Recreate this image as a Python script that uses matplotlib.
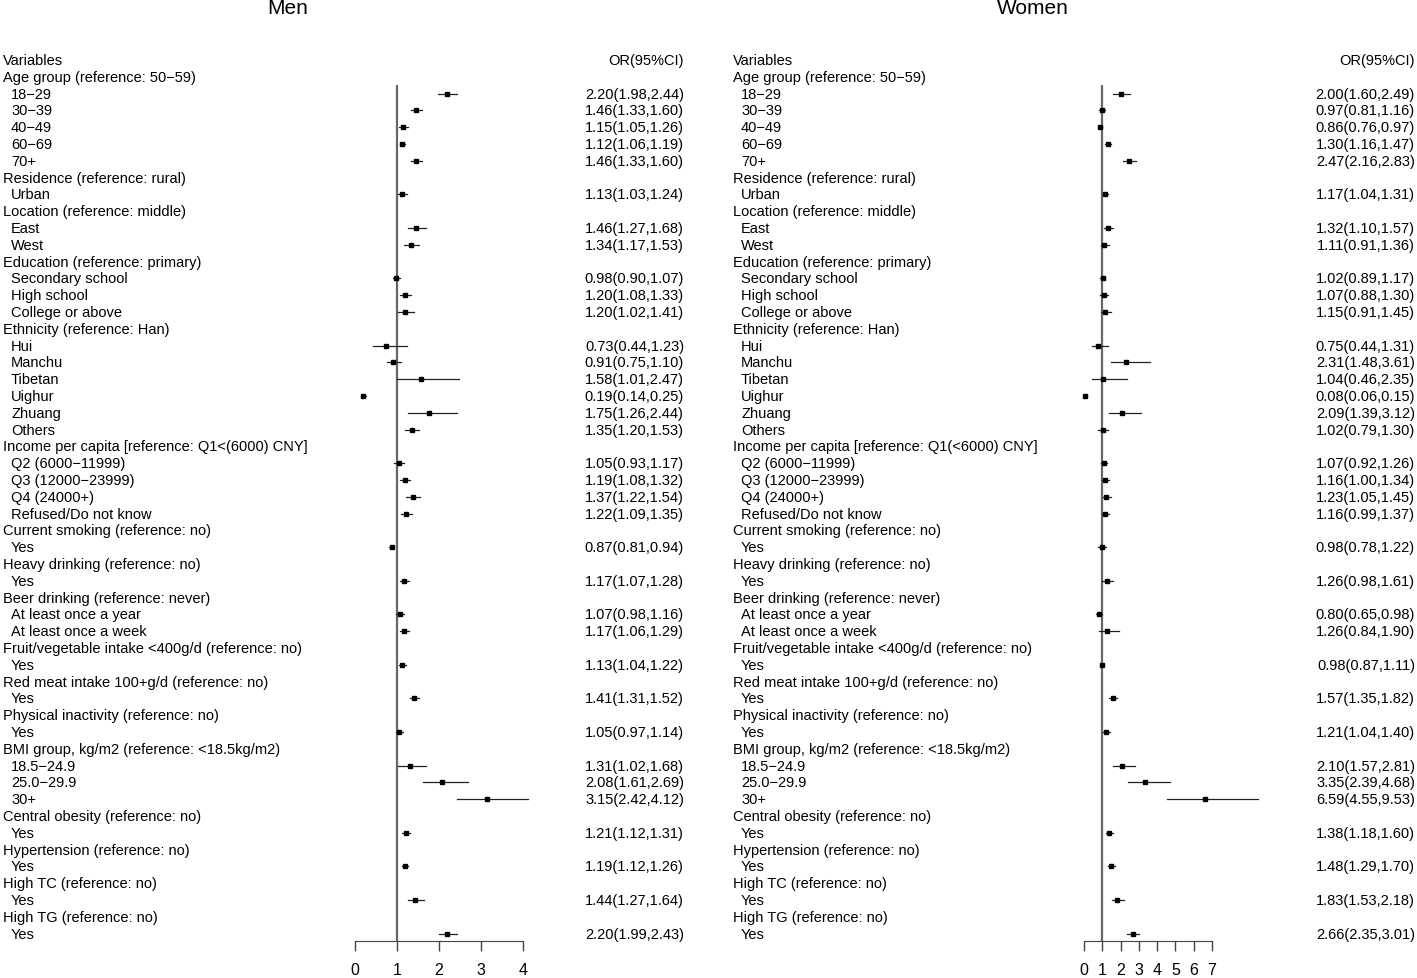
import matplotlib.pyplot as plt
import matplotlib.transforms as mtransforms

plt.rcParams['font.family'] = ['Liberation Sans', 'DejaVu Sans']

# variable groups: header, sub-rows
groups = [
    ("Age group (reference: 50\u221259)", ["18\u221229", "30\u221239", "40\u221249", "60\u221269", "70+"]),
    ("Residence (reference: rural)", ["Urban"]),
    ("Location (reference: middle)", ["East", "West"]),
    ("Education (reference: primary)", ["Secondary school", "High school", "College or above"]),
    ("Ethnicity (reference: Han)", ["Hui", "Manchu", "Tibetan", "Uighur", "Zhuang", "Others"]),
    ("Income per capita [reference: Q1<(6000) CNY]",
     ["Q2 (6000\u221211999)", "Q3 (12000\u221223999)", "Q4 (24000+)", "Refused/Do not know"]),
    ("Current smoking (reference: no)", ["Yes"]),
    ("Heavy drinking (reference: no)", ["Yes"]),
    ("Beer drinking (reference: never)", ["At least once a year", "At least once a week"]),
    ("Fruit/vegetable intake <400g/d (reference: no)", ["Yes"]),
    ("Red meat intake 100+g/d (reference: no)", ["Yes"]),
    ("Physical inactivity (reference: no)", ["Yes"]),
    ("BMI group, kg/m2 (reference: <18.5kg/m2)", ["18.5\u221224.9", "25.0\u221229.9", "30+"]),
    ("Central obesity (reference: no)", ["Yes"]),
    ("Hypertension (reference: no)", ["Yes"]),
    ("High TC (reference: no)", ["Yes"]),
    ("High TG (reference: no)", ["Yes"]),
]
women_income_header = "Income per capita [reference: Q1(<6000) CNY]"

men_or = [2.20, 1.46, 1.15, 1.12, 1.46, 1.13, 1.46, 1.34, 0.98, 1.20, 1.20,
          0.73, 0.91, 1.58, 0.19, 1.75, 1.35, 1.05, 1.19, 1.37, 1.22, 0.87,
          1.17, 1.07, 1.17, 1.13, 1.41, 1.05, 1.31, 2.08, 3.15, 1.21, 1.19,
          1.44, 2.20]
men_lo = [1.98, 1.33, 1.05, 1.06, 1.33, 1.03, 1.27, 1.17, 0.90, 1.08, 1.02,
          0.44, 0.75, 1.01, 0.14, 1.26, 1.20, 0.93, 1.08, 1.22, 1.09, 0.81,
          1.07, 0.98, 1.06, 1.04, 1.31, 0.97, 1.02, 1.61, 2.42, 1.12, 1.12,
          1.27, 1.99]
men_hi = [2.44, 1.60, 1.26, 1.19, 1.60, 1.24, 1.68, 1.53, 1.07, 1.33, 1.41,
          1.23, 1.10, 2.47, 0.25, 2.44, 1.53, 1.17, 1.32, 1.54, 1.35, 0.94,
          1.28, 1.16, 1.29, 1.22, 1.52, 1.14, 1.68, 2.69, 4.12, 1.31, 1.26,
          1.64, 2.43]

women_or = [2.00, 0.97, 0.86, 1.30, 2.47, 1.17, 1.32, 1.11, 1.02, 1.07, 1.15,
            0.75, 2.31, 1.04, 0.08, 2.09, 1.02, 1.07, 1.16, 1.23, 1.16, 0.98,
            1.26, 0.80, 1.26, 0.98, 1.57, 1.21, 2.10, 3.35, 6.59, 1.38, 1.48,
            1.83, 2.66]
women_lo = [1.60, 0.81, 0.76, 1.16, 2.16, 1.04, 1.10, 0.91, 0.89, 0.88, 0.91,
            0.44, 1.48, 0.46, 0.06, 1.39, 0.79, 0.92, 1.00, 1.05, 0.99, 0.78,
            0.98, 0.65, 0.84, 0.87, 1.35, 1.04, 1.57, 2.39, 4.55, 1.18, 1.29,
            1.53, 2.35]
women_hi = [2.49, 1.16, 0.97, 1.47, 2.83, 1.31, 1.57, 1.36, 1.17, 1.30, 1.45,
            1.31, 3.61, 2.35, 0.15, 3.12, 1.30, 1.26, 1.34, 1.45, 1.37, 1.22,
            1.61, 0.98, 1.90, 1.11, 1.82, 1.40, 2.81, 4.68, 9.53, 1.60, 1.70,
            2.18, 3.01]

W, H = 1417, 979
fig = plt.figure(figsize=(W / 100, H / 100), dpi=100)
FS = 10.5


def build_rows(income_header):
    rows = []  # (label, is_sub)
    for head, subs in groups:
        if head.startswith("Income"):
            head = income_header
        rows.append((head, False))
        for s in subs:
            rows.append((s, True))
    return rows


def forest(title, rows, ors, los, his, text_x, or_x, ax_left, ax_right, xmax, title_x):
    ax = fig.add_axes([ax_left / W, 1 - 942 / H, (ax_right - ax_left) / W, (942 - 50) / H])
    ax.set_xlim(0, xmax)
    ax.set_ylim(52.44, -0.65)
    for s in ["top", "right", "left"]:
        ax.spines[s].set_visible(False)
    ax.spines["bottom"].set_color("#444444")
    ax.set_yticks([])
    ax.set_xticks(range(0, xmax + 1))
    ax.tick_params(axis="x", length=7, width=1, color="#444444", labelsize=11.5, pad=8)
    ax.patch.set_visible(False)

    tr = mtransforms.blended_transform_factory(fig.transFigure, ax.transData)
    ax.text(text_x / W, 0, "Variables", transform=tr, ha="left", va="center", fontsize=FS)
    ax.text(or_x / W, 0, "OR(95%CI)", transform=tr, ha="right", va="center", fontsize=FS)

    ax.vlines(1, 1.5, 52.44, color="#666666", lw=1.6, zorder=1)

    k = 0
    for i, (lab, sub) in enumerate(rows):
        y = i + 1
        ax.text((text_x + (8 if sub else 0)) / W, y, lab, transform=tr, ha="left", va="center", fontsize=FS)
        if sub:
            ax.plot([los[k], his[k]], [y, y], color="#222222", lw=0.9, clip_on=False, zorder=2)
            ax.plot(ors[k], y, "s", color="black", ms=3.4, clip_on=False, zorder=3)
            ax.text(or_x / W, y, "%.2f(%.2f,%.2f)" % (ors[k], los[k], his[k]),
                    transform=tr, ha="right", va="center", fontsize=FS)
            k += 1
    fig.text(title_x / W, 1 - 9 / H, title, ha="center", va="center", fontsize=15)


forest("Men", build_rows(groups[5][0]), men_or, men_lo, men_hi,
       3, 684, 355, 523, 4, 288)
forest("Women", build_rows(women_income_header), women_or, women_lo, women_hi,
       733, 1415, 1084, 1212, 7, 1033)

fig.savefig("out.png", dpi=100)
